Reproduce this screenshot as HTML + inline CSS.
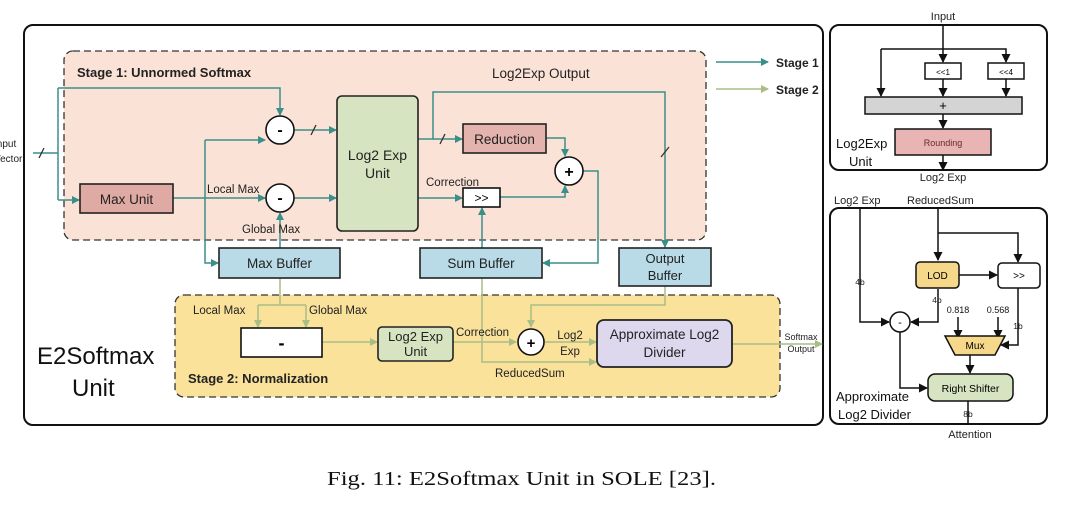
<!DOCTYPE html>
<html><head><meta charset="utf-8"><style>
html,body{margin:0;padding:0;background:#fff;}
svg{display:block;font-family:"Liberation Sans",sans-serif;}
</style></head><body>
<svg width="1080" height="512" viewBox="0 0 1080 512" xmlns="http://www.w3.org/2000/svg">
<defs>
<marker id="at" markerWidth="8" markerHeight="8" refX="7" refY="4" orient="auto" markerUnits="userSpaceOnUse"><path d="M0,0 L8,4 L0,8 z" fill="#3a8f8a"/></marker>
<marker id="ag" markerWidth="8" markerHeight="8" refX="7" refY="4" orient="auto" markerUnits="userSpaceOnUse"><path d="M0,0 L8,4 L0,8 z" fill="#a9bd86"/></marker>
<marker id="ak" markerWidth="9" markerHeight="9" refX="8" refY="4.5" orient="auto" markerUnits="userSpaceOnUse"><path d="M0,0 L9,4.5 L0,9 z" fill="#111"/></marker>
</defs>

<!-- main box -->
<rect x="24" y="25" width="799" height="400" rx="9" fill="#fff" stroke="#111" stroke-width="2"/>
<!-- stage 1 -->
<rect x="64" y="51" width="642" height="189" rx="9" fill="#fbe2d6" stroke="#333" stroke-width="1.3" stroke-dasharray="7,4"/>
<text x="77" y="77" font-size="13" font-weight="bold" fill="#222">Stage 1: Unnormed Softmax</text>
<text x="492" y="78" font-size="13.5" fill="#222">Log2Exp Output</text>
<!-- stage 2 -->
<rect x="175" y="295" width="605" height="102" rx="9" fill="#fae29a" stroke="#333" stroke-width="1.3" stroke-dasharray="7,4"/>
<text x="188" y="383" font-size="13" font-weight="bold" fill="#222">Stage 2: Normalization</text>

<text x="37" y="364" font-size="24" fill="#111">E2Softmax</text>
<text x="72" y="396" font-size="24" fill="#111">Unit</text>

<!-- legend -->
<line x1="716" y1="62" x2="768" y2="62" stroke="#3a8f8a" stroke-width="1.5" marker-end="url(#at)"/>
<line x1="716" y1="89" x2="768" y2="89" stroke="#a9bd86" stroke-width="1.5" marker-end="url(#ag)"/>
<text x="776" y="67" font-size="12" font-weight="bold" fill="#222">Stage 1</text>
<text x="776" y="94" font-size="12" font-weight="bold" fill="#222">Stage 2</text>

<!-- input -->
<text x="-6" y="147" font-size="10" fill="#222">Input</text>
<text x="-6" y="162" font-size="10" fill="#222">Vector</text>
<g fill="none" stroke="#3a8f8a" stroke-width="1.5">
<path d="M33,153 H58"/>
<path d="M58,88 V200"/>
<path d="M58,88 H280 V115" marker-end="url(#at)"/>
<path d="M58,200 H79" marker-end="url(#at)"/>
<path d="M173,198 H265" marker-end="url(#at)"/>
<path d="M205,140 H265" marker-end="url(#at)"/>
<path d="M205,140 V263 H218" marker-end="url(#at)"/>
<path d="M280,248 V213" marker-end="url(#at)"/>
<path d="M294,130 H336" marker-end="url(#at)"/>
<path d="M294,198 H336" marker-end="url(#at)"/>
<path d="M418,139 H433 V92 H665 V247" marker-end="url(#at)"/>
<path d="M433,139 H462" marker-end="url(#at)"/>
<path d="M418,198 H462" marker-end="url(#at)"/>
<path d="M546,138 H565 V156" marker-end="url(#at)"/>
<path d="M500,197 H565 V186" marker-end="url(#at)"/>
<path d="M583,171 H598 V263 H543" marker-end="url(#at)"/>
<path d="M482,248 V208" marker-end="url(#at)"/>
</g>
<g stroke="#333" stroke-width="1.3">
<line x1="39" y1="158" x2="44" y2="148"/>
<line x1="311" y1="135" x2="316" y2="125"/>
<line x1="440" y1="144" x2="445" y2="134"/>
<line x1="661" y1="157" x2="669" y2="147"/>
</g>
<g fill="none" stroke="#a9bd86" stroke-width="1.5">
<path d="M280,278 V305"/>
<path d="M258,305 H306"/>
<path d="M258,305 V327" marker-end="url(#ag)"/>
<path d="M306,305 V327" marker-end="url(#ag)"/>
<path d="M322,342 H377" marker-end="url(#ag)"/>
<path d="M453,342 H516" marker-end="url(#ag)"/>
<path d="M545,342 H596" marker-end="url(#ag)"/>
<path d="M665,286 V305 H531 V327" marker-end="url(#ag)"/>
<path d="M482,278 V362 H596" marker-end="url(#ag)"/>
<path d="M731,344 H822" marker-end="url(#ag)"/>
</g>

<!-- stage 1 blocks -->
<rect x="80" y="184" width="93" height="29" fill="#dfaaa3" stroke="#222" stroke-width="1.6"/>
<text x="126.5" y="204" font-size="13.5" text-anchor="middle" fill="#222">Max Unit</text>
<circle cx="280" cy="130" r="14" fill="#fff" stroke="#111" stroke-width="1.6"/>
<text x="280" y="135" font-size="16" font-weight="bold" text-anchor="middle">-</text>
<circle cx="280" cy="198" r="14" fill="#fff" stroke="#111" stroke-width="1.6"/>
<text x="280" y="203" font-size="16" font-weight="bold" text-anchor="middle">-</text>
<text x="207" y="193" font-size="11.5" fill="#222">Local Max</text>
<text x="242" y="233" font-size="11.5" fill="#222">Global Max</text>
<rect x="337" y="96" width="81" height="135" rx="5" fill="#d6e4c1" stroke="#222" stroke-width="1.6"/>
<text x="377.5" y="160" font-size="14" text-anchor="middle" fill="#222">Log2 Exp</text>
<text x="377.5" y="178" font-size="14" text-anchor="middle" fill="#222">Unit</text>
<rect x="463" y="124" width="83" height="29" fill="#e4b3ae" stroke="#222" stroke-width="1.6"/>
<text x="504.5" y="144" font-size="13.5" text-anchor="middle" fill="#222">Reduction</text>
<circle cx="569" cy="171" r="14" fill="#fff" stroke="#111" stroke-width="1.6"/>
<text x="569" y="177" font-size="16" font-weight="bold" text-anchor="middle">+</text>
<text x="426" y="186" font-size="11.5" fill="#222">Correction</text>
<rect x="463" y="188" width="37" height="19" fill="#fff" stroke="#111" stroke-width="1.6"/>
<text x="481.5" y="202" font-size="12" text-anchor="middle">&gt;&gt;</text>
<rect x="219" y="248" width="121" height="30" fill="#b8dbe7" stroke="#222" stroke-width="1.6"/>
<text x="279.5" y="268" font-size="13.5" text-anchor="middle" fill="#222">Max Buffer</text>
<rect x="420" y="248" width="122" height="30" fill="#b8dbe7" stroke="#222" stroke-width="1.6"/>
<text x="481" y="268" font-size="13.5" text-anchor="middle" fill="#222">Sum Buffer</text>
<rect x="619" y="248" width="92" height="38" fill="#b8dbe7" stroke="#222" stroke-width="1.6"/>
<text x="665" y="263" font-size="13" text-anchor="middle" fill="#222">Output</text>
<text x="665" y="280" font-size="13" text-anchor="middle" fill="#222">Buffer</text>

<!-- stage 2 blocks -->
<text x="193" y="314" font-size="11.5" fill="#222">Local Max</text>
<text x="309" y="314" font-size="11.5" fill="#222">Global Max</text>
<rect x="241" y="328" width="81" height="29" fill="#fff" stroke="#111" stroke-width="1.6"/>
<text x="281.5" y="349" font-size="18" font-weight="bold" text-anchor="middle">-</text>
<rect x="378" y="327" width="75" height="34" rx="4" fill="#d6e4c1" stroke="#222" stroke-width="1.6"/>
<text x="415.5" y="341" font-size="13" text-anchor="middle" fill="#222">Log2 Exp</text>
<text x="415.5" y="356" font-size="13" text-anchor="middle" fill="#222">Unit</text>
<text x="456" y="336" font-size="11.5" fill="#222">Correction</text>
<circle cx="531" cy="342" r="13" fill="#fff" stroke="#111" stroke-width="1.6"/>
<text x="531" y="348" font-size="15" font-weight="bold" text-anchor="middle">+</text>
<text x="570" y="339" font-size="11.5" text-anchor="middle" fill="#222">Log2</text>
<text x="570" y="355" font-size="11.5" text-anchor="middle" fill="#222">Exp</text>
<text x="495" y="377" font-size="11.5" fill="#222">ReducedSum</text>
<rect x="597" y="320" width="135" height="47" rx="7" fill="#ddd8ee" stroke="#222" stroke-width="1.8"/>
<text x="664.5" y="339" font-size="13.5" text-anchor="middle" fill="#222">Approximate Log2</text>
<text x="664.5" y="357" font-size="13.5" text-anchor="middle" fill="#222">Divider</text>
<text x="801" y="340" font-size="9" text-anchor="middle" fill="#222">Softmax</text>
<text x="801" y="352" font-size="9" text-anchor="middle" fill="#222">Output</text>

<!-- right top panel -->
<rect x="830" y="25" width="217" height="145" rx="9" fill="#fff" stroke="#111" stroke-width="2"/>
<text x="943" y="20" font-size="11" text-anchor="middle" fill="#222">Input</text>
<g fill="none" stroke="#111" stroke-width="1.5">
<path d="M943,24 V62" marker-end="url(#ak)"/>
<path d="M881,49 H1006 V62" marker-end="url(#ak)"/>
<path d="M881,49 V96" marker-end="url(#ak)"/>
<path d="M943,79 V96" marker-end="url(#ak)"/>
<path d="M1006,79 V96" marker-end="url(#ak)"/>
<path d="M943,114 V128" marker-end="url(#ak)"/>
<path d="M943,155 V170" marker-end="url(#ak)"/>
</g>
<rect x="925" y="63" width="36" height="16" fill="#fff" stroke="#111" stroke-width="1.5"/>
<text x="943" y="75" font-size="8" text-anchor="middle">&lt;&lt;1</text>
<rect x="988" y="63" width="36" height="16" fill="#fff" stroke="#111" stroke-width="1.5"/>
<text x="1006" y="75" font-size="8" text-anchor="middle">&lt;&lt;4</text>
<rect x="865" y="97" width="157" height="17" fill="#d4d4d4" stroke="#111" stroke-width="1.5"/>
<text x="943" y="110" font-size="13" text-anchor="middle">+</text>
<rect x="895" y="129" width="96" height="26" fill="#e8b4b4" stroke="#111" stroke-width="1.5"/>
<text x="943" y="146" font-size="9" text-anchor="middle" fill="#6a2a2a">Rounding</text>
<text x="836" y="148" font-size="13" fill="#111">Log2Exp</text>
<text x="849" y="166" font-size="13" fill="#111">Unit</text>
<text x="943" y="181" font-size="11" text-anchor="middle" fill="#222">Log2 Exp</text>

<!-- right bottom panel -->
<rect x="830" y="208" width="217" height="216" rx="9" fill="#fff" stroke="#111" stroke-width="2"/>
<text x="834" y="204" font-size="11" fill="#222">Log2 Exp</text>
<text x="907" y="204" font-size="11" fill="#222">ReducedSum</text>
<g fill="none" stroke="#111" stroke-width="1.5">
<path d="M860,207 V322 H889" marker-end="url(#ak)"/>
<path d="M938,207 V260" marker-end="url(#ak)"/>
<path d="M938,233 H1018 V262" marker-end="url(#ak)"/>
<path d="M959,275 H997" marker-end="url(#ak)"/>
<path d="M938,289 V322 H911" marker-end="url(#ak)"/>
<path d="M1018,288 V345 H1001" marker-end="url(#ak)"/>
<path d="M958,317 V338" marker-end="url(#ak)"/>
<path d="M998,317 V338" marker-end="url(#ak)"/>
<path d="M970,355 V373" marker-end="url(#ak)"/>
<path d="M900,332 V388 H927" marker-end="url(#ak)"/>
<path d="M968,401 V425"/>
</g>
<rect x="916" y="262" width="43" height="26" rx="4" fill="#f6d88a" stroke="#111" stroke-width="1.5"/>
<text x="937.5" y="279" font-size="10" text-anchor="middle">LOD</text>
<rect x="998" y="263" width="42" height="25" rx="4" fill="#fff" stroke="#111" stroke-width="1.5"/>
<text x="1019" y="279" font-size="10" text-anchor="middle">&gt;&gt;</text>
<circle cx="900" cy="322" r="10" fill="#fff" stroke="#111" stroke-width="1.5"/>
<text x="900" y="326" font-size="11" text-anchor="middle">-</text>
<text x="860" y="285" font-size="8.5" text-anchor="middle" fill="#222">4b</text>
<text x="937" y="303" font-size="8.5" text-anchor="middle" fill="#222">4b</text>
<text x="958" y="313" font-size="9" text-anchor="middle" fill="#111">0.818</text>
<text x="998" y="313" font-size="9" text-anchor="middle" fill="#111">0.568</text>
<text x="1018" y="329" font-size="8.5" text-anchor="middle" fill="#222">1b</text>
<path d="M945,336 H1005 L995,355 H955 Z" fill="#f6d88a" stroke="#111" stroke-width="1.5"/>
<text x="975" y="349" font-size="10" text-anchor="middle">Mux</text>
<rect x="928" y="374" width="85" height="27" rx="7" fill="#d6e4c1" stroke="#111" stroke-width="1.5"/>
<text x="970.5" y="392" font-size="10.5" text-anchor="middle">Right Shifter</text>
<text x="968" y="417" font-size="8.5" text-anchor="middle" fill="#222">8b</text>
<text x="970" y="438" font-size="11" text-anchor="middle" fill="#222">Attention</text>
<text x="836" y="401" font-size="13" fill="#111">Approximate</text>
<text x="838" y="419" font-size="13" fill="#111">Log2 Divider</text>

<!-- caption -->
<text x="327" y="485" font-size="20" font-family="Liberation Serif, serif" textLength="389" lengthAdjust="spacingAndGlyphs" fill="#111">Fig. 11: E2Softmax Unit in SOLE [23].</text>
</svg>
</body></html>
